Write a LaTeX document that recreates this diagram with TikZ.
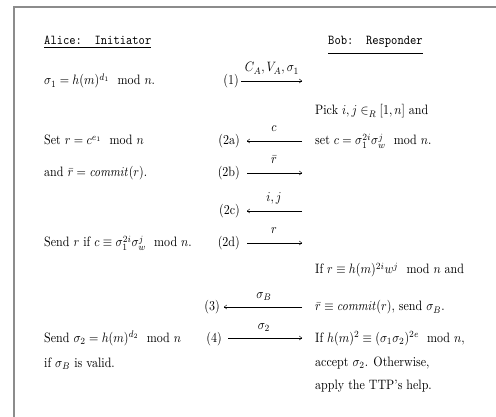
\documentclass[tikz,border=0pt]{standalone}
\usepackage{amsmath}
\usetikzlibrary{arrows.meta}
\definecolor{framegray}{rgb}{0.55,0.55,0.55}
\begin{document}
\begin{tikzpicture}[x=1pt,y=-1pt,
  txt/.style={anchor=base west,inner sep=0pt,xscale=1.2,yscale=1.36},
  num/.style={anchor=base east,inner sep=0pt,xscale=1.2,yscale=1.36},
  lab/.style={anchor=base,inner sep=0pt,xscale=1.2,yscale=1.36},
  msg/.style={line width=0.45pt,-{To[length=3pt,width=4.5pt]}},
  framed/.style={draw=framegray,line width=1.5pt}]
\useasboundingbox (0,0) rectangle (496,417);
\draw[framed] (14,417) -- (14,7) -- (496,7);
% headings
\node[txt] (alice) at (44,45) {\underline{\texttt{Alice:~~Initiator}}};
\node[txt] (bob) at (328,45) {\underline{\texttt{Bob:~~Responder}\rule[-5pt]{0pt}{5pt}}};
% row 1
\node[txt] (l1) at (44,85) {$\sigma_1 = h(m)^{d_1} \mod n$.};
\node[num] (n1) at (239,85) {(1)};
\coordinate (a1s) at (241,81); \coordinate (a1e) at (302,81);
\node[lab] (m1) at (272,72) {$C_A,V_A,\sigma_1$};
\draw[msg] (a1s) -- (a1e);
\node[txt] (r0) at (315,115) {Pick $i,j \in_R [1,n]$ and};
% row 2a
\node[txt] (l2a) at (44,145) {Set $r = c^{e_1} \mod n$};
\node[num] (n2a) at (240,145) {(2a)};
\coordinate (a2as) at (247,141); \coordinate (a2ae) at (302,141);
\node[lab] (m2a) at (274,132) {$c$};
\draw[msg] (a2ae) -- (a2as);
\node[txt] (r2a) at (315,145) {set $c = \sigma_1^{2i}\sigma_w^j \mod n$.};
% row 2b
\node[txt] (l2b) at (44,177) {and $\bar r = \mathit{commit}(r)$.};
\node[num] (n2b) at (240,177) {(2b)};
\coordinate (a2bs) at (247,173); \coordinate (a2be) at (302,173);
\node[lab] (m2b) at (274,164) {$\bar r$};
\draw[msg] (a2bs) -- (a2be);
% row 2c
\node[num] (n2c) at (240,215) {(2c)};
\coordinate (a2cs) at (247,211); \coordinate (a2ce) at (302,211);
\node[lab] (m2c) at (274,202) {$i,j$};
\draw[msg] (a2ce) -- (a2cs);
% row 2d
\node[txt] (l2d) at (44,247) {Send $r$ if $c \equiv \sigma_1^{2i}\sigma_w^j \mod n$.};
\node[num] (n2d) at (240,247) {(2d)};
\coordinate (a2ds) at (247,243); \coordinate (a2de) at (302,243);
\node[lab] (m2d) at (274,234) {$r$};
\draw[msg] (a2ds) -- (a2de);
\node[txt] (r2e) at (315,274) {If $r \equiv h(m)^{2i}w^j \mod n$ and};
% row 3
\node[num] (n3) at (220,311) {(3)};
\coordinate (a3s) at (224,307); \coordinate (a3e) at (302,307);
\node[lab] (m3) at (264,298) {$\sigma_B$};
\draw[msg] (a3e) -- (a3s);
\node[txt] (r3) at (315,311) {$\bar r \equiv \mathit{commit}(r)$, send $\sigma_B$.};
% row 4
\node[txt] (l4) at (44,342) {Send $\sigma_2 = h(m)^{d_2} \mod n$};
\node[txt] (l4b) at (44,367) {if $\sigma_B$ is valid.};
\node[num] (n4) at (222,342) {(4)};
\coordinate (a4s) at (228,338); \coordinate (a4e) at (302,338);
\node[lab] (m4) at (264,329) {$\sigma_2$};
\draw[msg] (a4s) -- (a4e);
\node[txt] (r4) at (315,342) {If $h(m)^2 \equiv (\sigma_1\sigma_2)^{2e} \mod n$,};
\node[txt] (r4b) at (315,366) {accept $\sigma_2$. Otherwise,};
\node[txt] (r4c) at (315,389) {apply the TTP's help.};
\end{tikzpicture}
\end{document}
